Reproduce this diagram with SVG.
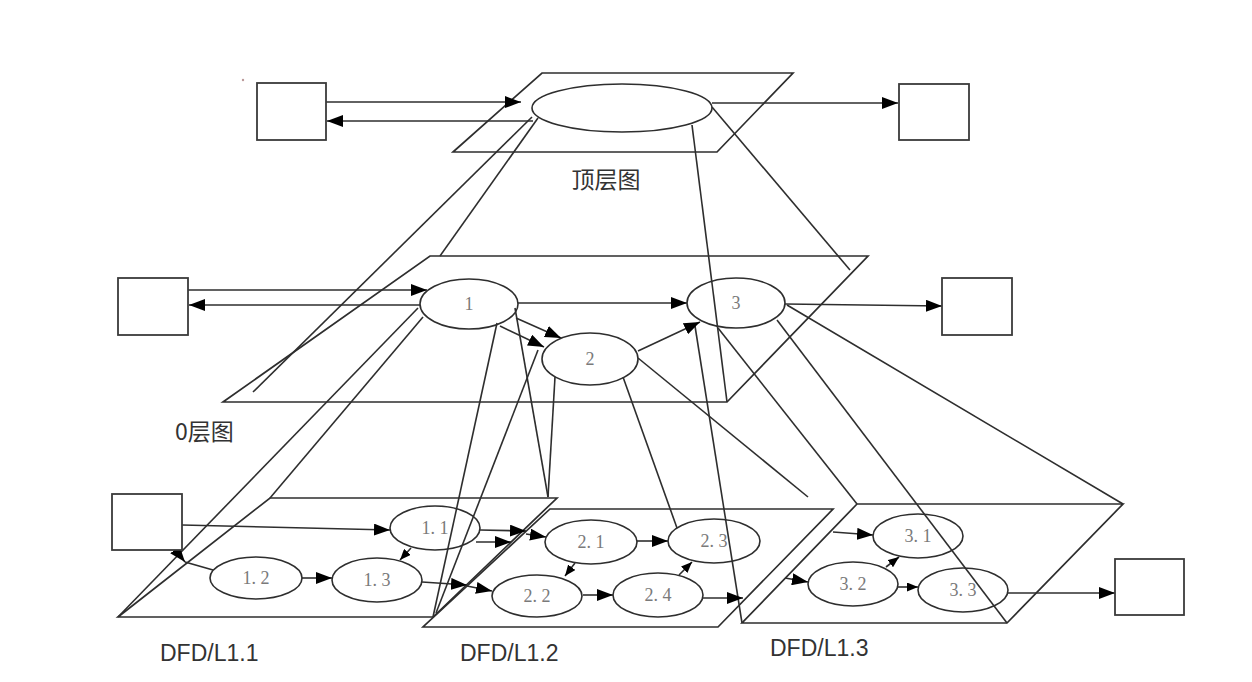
<svg xmlns="http://www.w3.org/2000/svg" width="1252" height="682" viewBox="0 0 1252 682">
<style>
.ln{fill:none;stroke:#2e2e2e;stroke-width:1.6}
.box{fill:#fff;stroke:#3a3a3a;stroke-width:1.8}
.pl{fill:none;stroke:#2e2e2e;stroke-width:1.7;stroke-linejoin:miter}
.el{fill:none;stroke:#2e2e2e;stroke-width:1.6}
.ar{fill:none;stroke:#2e2e2e;stroke-width:1.6;marker-end:url(#ah)}
.ars{fill:none;stroke:#2e2e2e;stroke-width:1.6;marker-end:url(#ahs)}
.num{font-family:"Liberation Serif","DejaVu Serif",serif;font-size:18px;fill:#7a7a7a;text-anchor:middle}
.lab{font-family:"Liberation Sans","Noto Sans CJK SC",sans-serif;font-size:23px;fill:#333}
.cjk{font-family:"Noto Sans CJK SC",sans-serif;font-size:23px;fill:#333}
</style>
<defs>
<marker id="ah" viewBox="0 0 16 12" refX="16" refY="6" markerWidth="16" markerHeight="12" markerUnits="userSpaceOnUse" orient="auto"><path d="M0,0 L16,6 L0,12 Z" fill="#000"/></marker>
<marker id="ahs" viewBox="0 0 11 9" refX="11" refY="4.5" markerWidth="11" markerHeight="9" markerUnits="userSpaceOnUse" orient="auto"><path d="M0,0 L11,4.5 L0,9 Z" fill="#000"/></marker>
</defs>
<rect width="1252" height="682" fill="#fff"/>
<circle cx="243" cy="80" r="1.2" fill="#b99"/>

<g id="planes">
<polygon id="plane-top" class="pl" points="542,73 793,73 717,152 453,152"/>
<polygon id="plane-0" class="pl" points="430,256 868,256 727,402 223,402"/>
<polygon id="plane-l11" class="pl" points="270,498 557,498 433,617 118,617"/>
<polygon id="plane-l12" class="pl" points="550,509 833,509 718,627 423,627"/>
<polygon id="plane-l13" class="pl" points="857,504 1123,504 1007,623 742,623"/>
</g>

<g id="connectors">
<line class="ln" x1="532" y1="117" x2="253" y2="392"/>
<line class="ln" x1="538" y1="118" x2="440" y2="256"/>
<line class="ln" x1="712" y1="107" x2="850" y2="270"/>
<line class="ln" x1="692" y1="125" x2="727" y2="402"/>
<line class="ln" x1="418" y1="308" x2="118" y2="617"/>
<line class="ln" x1="423" y1="317" x2="270" y2="498"/>
<line class="ln" x1="497" y1="323" x2="433" y2="617"/>
<line class="ln" x1="515" y1="308" x2="548" y2="497"/>
<line class="ln" x1="555" y1="377" x2="548" y2="497"/>
<line class="ln" x1="538" y1="350" x2="436" y2="613"/>
<line class="ln" x1="623" y1="377" x2="677" y2="528"/>
<line class="ln" x1="638" y1="358" x2="808" y2="497"/>
<line class="ln" x1="695" y1="326" x2="742" y2="623"/>
<line class="ln" x1="718" y1="328" x2="857" y2="504"/>
<line class="ln" x1="777" y1="320" x2="1007" y2="623"/>
<line class="ln" x1="787" y1="305" x2="1123" y2="504"/>
<path class="ar" d="M326,102 H521"/>
<path class="ar" d="M533,121 H327"/>
<path class="ar" d="M712,103 H898"/>
<path class="ar" d="M188,290 H427"/>
<path class="ar" d="M420,305 H189"/>
<path class="ar" d="M518,303 H687"/>
<path class="ar" d="M785,304 L942,306"/>
<path class="ar" d="M516,318 L561,338"/>
<path class="ar" d="M500,326 L544,347"/>
<path class="ar" d="M638,351 L700,322"/>
<path class="ar" d="M182,525 L390,530"/>
<path class="ar" d="M172,546 L185,562"/>
<line class="ln" x1="185" y1="562" x2="213" y2="570"/>
<path class="ar" d="M302,578 H332"/>
<path class="ars" d="M411,548 L400,560"/>
<path class="ar" d="M480,530 L526,531"/>
<path class="ar" d="M476,542 L511,542"/>
<path class="ar" d="M526,534 L546,537"/>
<path class="ar" d="M422,582 L467,585"/>
<path class="ar" d="M467,586 L492,591"/>
<path class="ar" d="M637,541 H668"/>
<path class="ars" d="M575,563 L565,576"/>
<path class="ars" d="M679,575 L692,562"/>
<path class="ar" d="M583,595 H613"/>
<path class="ar" d="M703,598 L743,598"/>
<path class="ar" d="M833,532 L873,535"/>
<path class="ar" d="M785,578 L808,582"/>
<path class="ars" d="M886,567 L899,557"/>
<path class="ars" d="M898,587 H918"/>
<path class="ar" d="M1008,593 L1115,593"/>
</g>

<g id="top-src"><rect class="box" x="257" y="83" width="69" height="57"/></g>
<g id="top-dst"><rect class="box" x="899" y="84" width="70" height="56"/></g>
<g id="top-proc"><ellipse class="el" cx="622" cy="108" rx="90" ry="24"/></g>
<g id="label-top"><text class="cjk" x="606" y="188" text-anchor="middle">顶层图</text></g>

<g id="l0-src"><rect class="box" x="118" y="278" width="70" height="57"/></g>
<g id="l0-dst"><rect class="box" x="942" y="278" width="70" height="57"/></g>
<g id="p1"><ellipse class="el" cx="469" cy="304" rx="49" ry="25"/><text class="num" x="469" y="310">1</text></g>
<g id="p2"><ellipse class="el" cx="590" cy="359" rx="48" ry="26"/><text class="num" x="590" y="365">2</text></g>
<g id="p3"><ellipse class="el" cx="736" cy="303" rx="49" ry="25"/><text class="num" x="736" y="309">3</text></g>
<g id="label-0"><text class="cjk" x="175" y="440">0层图</text></g>

<g id="l11-src"><rect class="box" x="112" y="494" width="70" height="56"/></g>
<g id="p11"><ellipse class="el" cx="435" cy="528" rx="45" ry="22"/><text class="num" x="435" y="534">1. 1</text></g>
<g id="p12"><ellipse class="el" cx="256" cy="578" rx="46" ry="21"/><text class="num" x="256" y="584">1. 2</text></g>
<g id="p13"><ellipse class="el" cx="377" cy="580" rx="45" ry="22"/><text class="num" x="377" y="586">1. 3</text></g>
<g id="p21"><ellipse class="el" cx="591" cy="542" rx="46" ry="22"/><text class="num" x="591" y="548">2. 1</text></g>
<g id="p22"><ellipse class="el" cx="537" cy="596" rx="45" ry="21"/><text class="num" x="537" y="602">2. 2</text></g>
<g id="p23"><ellipse class="el" cx="714" cy="541" rx="46" ry="22"/><text class="num" x="714" y="547">2. 3</text></g>
<g id="p24"><ellipse class="el" cx="658" cy="595" rx="45" ry="22"/><text class="num" x="658" y="601">2. 4</text></g>
<g id="p31"><ellipse class="el" cx="918" cy="536" rx="45" ry="22"/><text class="num" x="918" y="542">3. 1</text></g>
<g id="p32"><ellipse class="el" cx="853" cy="584" rx="45" ry="22"/><text class="num" x="853" y="590">3. 2</text></g>
<g id="p33"><ellipse class="el" cx="963" cy="590" rx="45" ry="22"/><text class="num" x="963" y="596">3. 3</text></g>
<g id="l13-dst"><rect class="box" x="1115" y="559" width="69" height="56"/></g>

<g id="label-l11"><text class="lab" x="160" y="661">DFD/L1.1</text></g>
<g id="label-l12"><text class="lab" x="460" y="661">DFD/L1.2</text></g>
<g id="label-l13"><text class="lab" x="770" y="656">DFD/L1.3</text></g>
</svg>
